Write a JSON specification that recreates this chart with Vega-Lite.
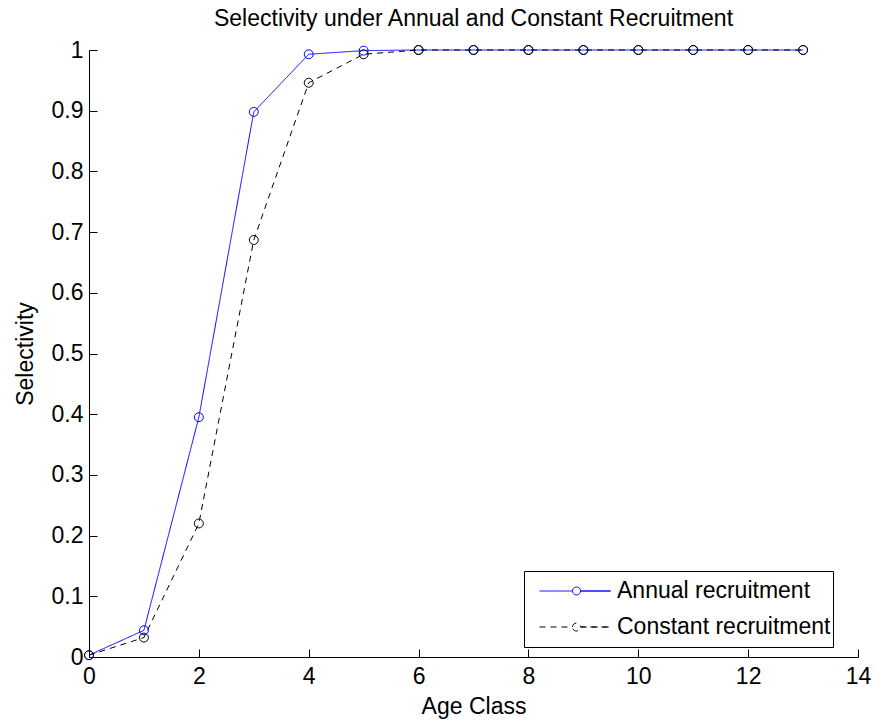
{
  "$schema": "https://vega.github.io/schema/vega-lite/v6.json",
  "width": 769,
  "height": 607,
  "autosize": {"type": "none"},
  "padding": {"left": 89, "top": 50, "right": 19, "bottom": 63},
  "background": "white",
  "title": {
    "text": "Selectivity under Annual and Constant Recruitment",
    "font": "Liberation Sans",
    "fontSize": 23,
    "fontWeight": "normal",
    "color": "black",
    "anchor": "middle",
    "offset": 8
  },
  "config": {
    "view": {"stroke": null},
    "font": "Liberation Sans",
    "axis": {
      "grid": false,
      "domainColor": "black",
      "tickColor": "black",
      "labelColor": "black",
      "titleColor": "black",
      "labelFont": "Liberation Sans",
      "titleFont": "Liberation Sans",
      "labelFontSize": 23,
      "titleFontSize": 23,
      "titleFontWeight": "normal",
      "tickSize": -8,
      "domainWidth": 1,
      "tickWidth": 1
    },
    "legend": {
      "orient": "none",
      "legendX": 435,
      "legendY": 521,
      "strokeColor": "black",
      "fillColor": "white",
      "padding": 2,
      "labelFont": "Liberation Sans",
      "labelFontSize": 23,
      "labelColor": "black",
      "labelLimit": 400,
      "symbolType": "M -10 -3.6 M -10 3.6 M 55 0 M -7.4 0 L -0.8 0 A 0.8 0.8 0 0 1 0.8 0 L 6.8 0 L 0.8 0 A 0.8 0.8 0 0 1 -0.8 0",
      "symbolSize": 100,
      "symbolOffset": 39,
      "symbolStrokeWidth": 1,
      "symbolFillColor": "transparent",
      "labelOffset": 29,
      "rowPadding": 0,
      "clipHeight": 36,
      "cornerRadius": 0
    }
  },
  "data": {
    "values": [
      {"age": 0, "value": 0.003, "series": "Annual recruitment"},
      {"age": 1, "value": 0.044, "series": "Annual recruitment"},
      {"age": 2, "value": 0.395, "series": "Annual recruitment"},
      {"age": 3, "value": 0.898, "series": "Annual recruitment"},
      {"age": 4, "value": 0.993, "series": "Annual recruitment"},
      {"age": 5, "value": 0.999, "series": "Annual recruitment"},
      {"age": 6, "value": 1.0, "series": "Annual recruitment"},
      {"age": 7, "value": 1.0, "series": "Annual recruitment"},
      {"age": 8, "value": 1.0, "series": "Annual recruitment"},
      {"age": 9, "value": 1.0, "series": "Annual recruitment"},
      {"age": 10, "value": 1.0, "series": "Annual recruitment"},
      {"age": 11, "value": 1.0, "series": "Annual recruitment"},
      {"age": 12, "value": 1.0, "series": "Annual recruitment"},
      {"age": 13, "value": 1.0, "series": "Annual recruitment"},
      {"age": 0, "value": 0.003, "series": "Constant recruitment"},
      {"age": 1, "value": 0.032, "series": "Constant recruitment"},
      {"age": 2, "value": 0.22, "series": "Constant recruitment"},
      {"age": 3, "value": 0.687, "series": "Constant recruitment"},
      {"age": 4, "value": 0.946, "series": "Constant recruitment"},
      {"age": 5, "value": 0.993, "series": "Constant recruitment"},
      {"age": 6, "value": 1.0, "series": "Constant recruitment"},
      {"age": 7, "value": 1.0, "series": "Constant recruitment"},
      {"age": 8, "value": 1.0, "series": "Constant recruitment"},
      {"age": 9, "value": 1.0, "series": "Constant recruitment"},
      {"age": 10, "value": 1.0, "series": "Constant recruitment"},
      {"age": 11, "value": 1.0, "series": "Constant recruitment"},
      {"age": 12, "value": 1.0, "series": "Constant recruitment"},
      {"age": 13, "value": 1.0, "series": "Constant recruitment"}
    ]
  },
  "encoding": {
    "x": {
      "field": "age",
      "type": "quantitative",
      "scale": {"domain": [0, 14], "nice": false, "zero": false},
      "axis": {"title": "Age Class", "values": [0, 2, 4, 6, 8, 10, 12, 14], "labelPadding": 16, "titlePadding": 7, "labelFlush": false}
    },
    "y": {
      "field": "value",
      "type": "quantitative",
      "scale": {"domain": [0, 1], "nice": false},
      "axis": {"title": "Selectivity", "values": [0, 0.1, 0.2, 0.3, 0.4, 0.5, 0.6, 0.7, 0.8, 0.9, 1], "format": "~g", "labelPadding": 14, "titlePadding": 14, "labelFlush": false}
    },
    "color": {
      "field": "series",
      "type": "nominal",
      "scale": {"domain": ["Annual recruitment", "Constant recruitment"], "range": ["#0000ff", "#000000"]},
      "legend": {
        "title": null,
        "encode": {
          "symbols": {
            "update": {
              "strokeDash": {"signal": "datum.value === 'Constant recruitment' ? [6,5,6,5,6,5,12.8,5,6,5,6,38,12.8,200] : [1,0]"},
              "fill": {"value": "transparent"}
            }
          }
        }
      }
    }
  },
  "layer": [
    {
      "mark": {"type": "line", "strokeWidth": 1, "clip": false},
      "encoding": {
        "strokeDash": {
          "field": "series",
          "type": "nominal",
          "scale": {"domain": ["Annual recruitment", "Constant recruitment"], "range": [[1, 0], [6, 5]]},
          "legend": null
        }
      }
    },
    {
      "mark": {"type": "point", "shape": "circle", "filled": false, "size": 80, "strokeWidth": 1, "opacity": 1, "clip": false},
      "encoding": {}
    }
  ]
}
